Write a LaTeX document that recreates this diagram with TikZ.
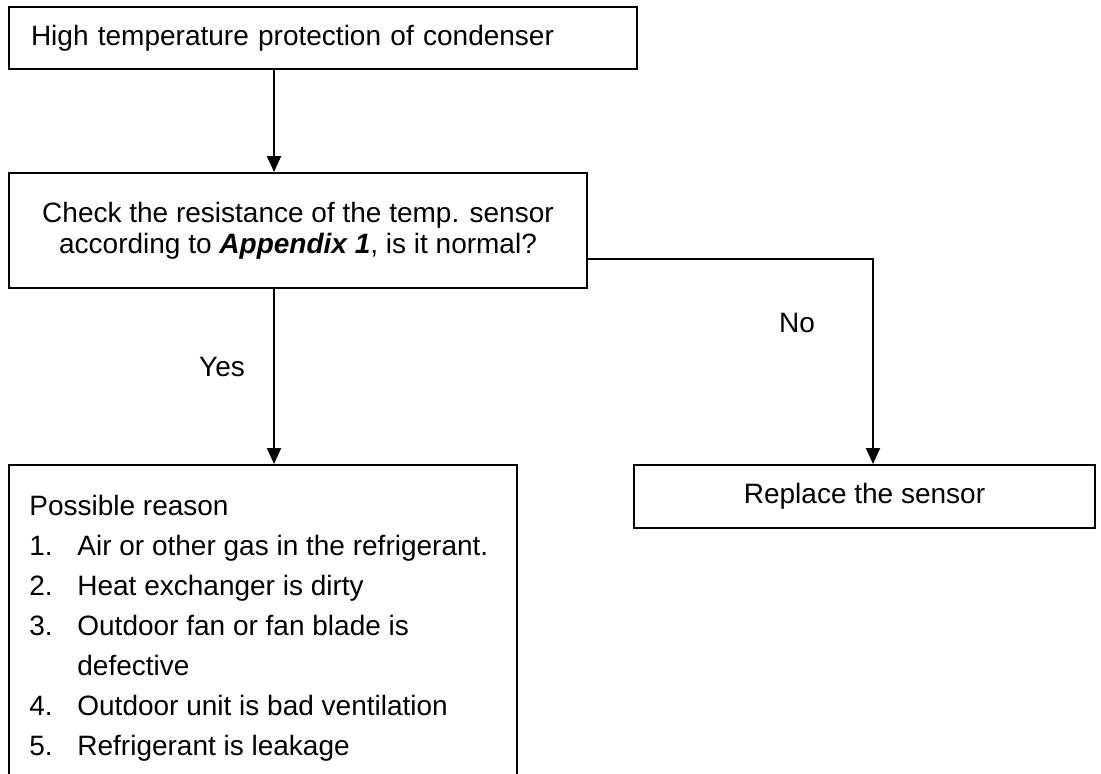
\documentclass[tikz,border=0pt]{standalone}
\usepackage{fontspec}
\setmainfont{Liberation Sans}
\usetikzlibrary{positioning,arrows.meta,calc}
\definecolor{ink}{HTML}{000000}
\newcommand{\reasonitem}[1]{\makebox[24pt][l]{#1}}

\begin{document}
\begin{tikzpicture}[x=0.5pt,y=-0.5pt,
    font=\fontsize{14}{15.5}\selectfont,
    stepbox/.style={draw=ink, line width=1pt, inner sep=0pt},
    flow/.style={draw=ink, line width=1pt, -{Triangle[width=7pt,length=8pt]}},
    tag/.style={text=ink, inner sep=0pt}]
  \useasboundingbox (0,0) rectangle (1101,773);
  \clip (0,0) rectangle (1101,773);
  % boxes
  \node[stepbox, anchor=north west, minimum width=314pt, minimum height=31pt,
        text width=292pt, align=left] (alarm) at (8,6)
        {High temperature protection of condenser};
  \node[stepbox, anchor=north west, minimum width=289pt, minimum height=57.5pt,
        align=center] (check) at (8,172)
        {Check the resistance of the temp. sensor\\
         according to \textbf{\textit{Appendix 1}}, is it normal?};
  \node[stepbox, anchor=north west, minimum width=230.5pt, minimum height=31.5pt] (replace)
        at (633,464) {Replace the sensor};
  \node[stepbox, anchor=north west, minimum width=254pt, minimum height=180pt] (reason)
        at (8,464) {};
  \node[tag, anchor=north west, align=left, font=\fontsize{14}{20}\selectfont]
        (reasontext) at (29,495) {%
    Possible reason\\
    \reasonitem{1.}Air or other gas in the refrigerant.\\
    \reasonitem{2.}Heat exchanger is dirty\\
    \reasonitem{3.}Outdoor fan or fan blade is\\
    \reasonitem{}defective\\
    \reasonitem{4.}Outdoor unit is bad ventilation\\
    \reasonitem{5.}Refrigerant is leakage};
  % connectors
  \coordinate (trunk) at (274,0);
  \coordinate (nojoin) at (873,259);
  \draw[flow] (alarm.south -| trunk) -- (check.north -| trunk);
  \draw[flow] (check.south -| trunk) -- (reason.north -| trunk);
  \draw[flow] (check.east |- nojoin) -- (nojoin) -- (replace.north -| nojoin);
  \node[tag] (yes) at (222,367) {Yes};
  \node[tag] (no) at (797,323) {No};
\end{tikzpicture}
\end{document}
